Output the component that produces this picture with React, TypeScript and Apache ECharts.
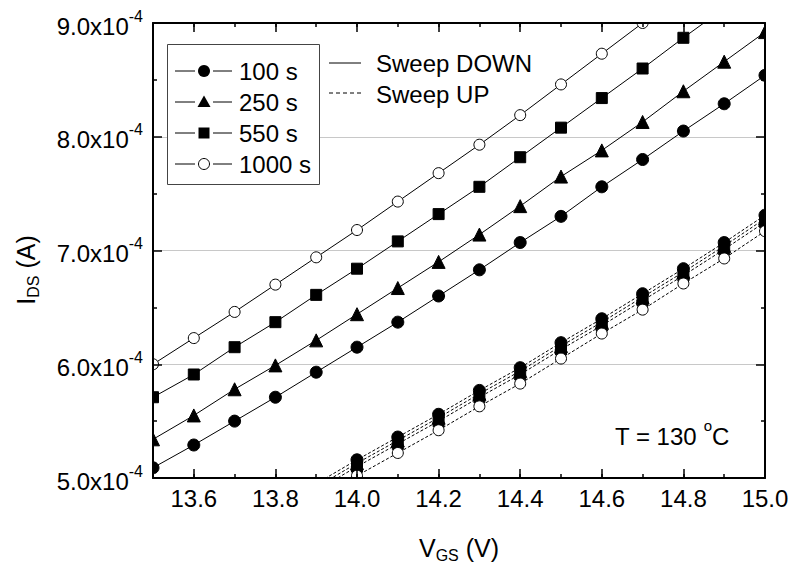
import React, { useEffect, useRef } from 'react';
import * as echarts from 'echarts';

// Gate voltage values (V)
const VGS_DOWN = [13.5, 13.6, 13.7, 13.8, 13.9, 14.0, 14.1, 14.2, 14.3, 14.4, 14.5, 14.6, 14.7, 14.8, 14.9, 15.0];
const VGS_UP = [13.9, 14.0, 14.1, 14.2, 14.3, 14.4, 14.5, 14.6, 14.7, 14.8, 14.9, 15.0];

// Drain current, in units of 1e-4 A — Sweep DOWN (solid)
const DOWN_100 = [5.09, 5.29, 5.50, 5.71, 5.93, 6.15, 6.37, 6.60, 6.83, 7.07, 7.30, 7.56, 7.80, 8.05, 8.29, 8.54];
const DOWN_250 = [5.34, 5.55, 5.78, 5.99, 6.21, 6.44, 6.67, 6.90, 7.14, 7.39, 7.65, 7.88, 8.13, 8.40, 8.66, 8.92];
const DOWN_550 = [5.71, 5.91, 6.15, 6.37, 6.61, 6.84, 7.08, 7.32, 7.56, 7.82, 8.08, 8.34, 8.60, 8.87, 9.13, null];
const DOWN_1000 = [6.00, 6.23, 6.46, 6.70, 6.94, 7.18, 7.43, 7.68, 7.93, 8.19, 8.46, 8.73, 9.00, null, null, null];

// Sweep UP (dashed)
const UP_100 = [4.95, 5.16, 5.36, 5.56, 5.77, 5.97, 6.19, 6.40, 6.62, 6.84, 7.07, 7.31];
const UP_250 = [4.92, 5.13, 5.33, 5.53, 5.74, 5.94, 6.16, 6.37, 6.59, 6.81, 7.04, 7.28];
const UP_550 = [4.89, 5.10, 5.30, 5.50, 5.71, 5.91, 6.13, 6.34, 6.56, 6.78, 7.01, 7.25];
const UP_1000 = [4.82, 5.02, 5.22, 5.42, 5.63, 5.83, 6.05, 6.27, 6.48, 6.71, 6.93, 7.17];

const NAMES = ['100 s', '250 s', '550 s', '1000 s'];
const X_MAJOR = [13.6, 13.8, 14.0, 14.2, 14.4, 14.6, 14.8, 15.0];
const X_MIN = 13.5;
const X_MAX = 15.0;
const Y_MIN = 5;
const Y_MAX = 9;

const FONT = '"Liberation Sans", Arial, Helvetica, sans-serif';

const MARKERS = [
  { symbol: 'circle', size: 12, fill: '#000' },
  { symbol: 'triangle', size: 13, fill: '#000' },
  { symbol: 'rect', size: 11, fill: '#000' },
  { symbol: 'circle', size: 11, fill: '#fff' },
];

// plot area in pixels
const G_LEFT = 153;
const G_TOP = 23;
const G_RIGHT = 765;
const G_BOTTOM = 478;
const W = 792;
const H = 567;

function pairs(xs: number[], ys: (number | null)[]) {
  return xs.map((x, i) => [x, ys[i]]);
}

export default function App() {
  const ref = useRef<HTMLDivElement>(null);

  useEffect(() => {
    if (!ref.current) return;
    const chart = echarts.init(ref.current, null, { renderer: 'svg' });

    const downSets = [DOWN_100, DOWN_250, DOWN_550, DOWN_1000];
    const upSets = [UP_100, UP_250, UP_550, UP_1000];

    const series: any[] = [];
    downSets.forEach((ys, i) => {
      const m = MARKERS[i];
      series.push({
        name: NAMES[i],
        type: 'line',
        z: 2,
        data: pairs(VGS_DOWN, ys),
        symbol: m.symbol,
        symbolSize: m.size,
        showAllSymbol: true,
        connectNulls: false,
        clip: true,
        lineStyle: { color: '#000', width: 1, type: 'solid' },
        itemStyle: { color: m.fill, borderColor: '#000', borderWidth: 1 },
        emphasis: { disabled: true },
      });
    });
    upSets.forEach((ys, i) => {
      const m = MARKERS[i];
      series.push({
        name: NAMES[i] + ' up',
        type: 'line',
        z: 2,
        data: pairs(VGS_UP, ys),
        symbol: m.symbol,
        symbolSize: m.size,
        showAllSymbol: true,
        clip: true,
        lineStyle: { color: '#000', width: 1, type: [3, 2] },
        itemStyle: { color: m.fill, borderColor: '#000', borderWidth: 1 },
        emphasis: { disabled: true },
      });
    });

    // white frame outside the plot area, so markers are cut at the axes like in the original
    series.push({
      type: 'custom',
      name: 'frame-mask',
      coordinateSystem: 'none',
      z: 3,
      silent: true,
      data: [[0]],
      renderItem: () => {
        const st = { fill: '#fff' };
        return {
          type: 'group',
          children: [
            { type: 'rect', shape: { x: 0, y: 0, width: G_LEFT, height: H }, style: st },
            { type: 'rect', shape: { x: G_RIGHT, y: 0, width: W - G_RIGHT, height: H }, style: st },
            { type: 'rect', shape: { x: 0, y: 0, width: W, height: G_TOP }, style: st },
            { type: 'rect', shape: { x: 0, y: G_BOTTOM, width: W, height: H - G_BOTTOM }, style: st },
          ],
        };
      },
    });

    const axisLine = { show: true, onZero: false, lineStyle: { color: '#000', width: 2 } };
    const tickStyle = { color: '#000', width: 1.5 };
    const AXZ = 5;

    const rows = [71, 102, 133, 164];
    const legendEls: any[] = [
      {
        type: 'rect',
        shape: { x: 167.5, y: 44.5, width: 152, height: 140 },
        style: { fill: '#fff', stroke: '#444', lineWidth: 1 },
        z: 10,
      },
    ];
    rows.forEach((y, i) => {
      legendEls.push({ type: 'line', shape: { x1: 175, y1: y, x2: 195, y2: y }, style: { stroke: '#000', lineWidth: 1 }, z: 11 });
      legendEls.push({ type: 'line', shape: { x1: 213, y1: y, x2: 232, y2: y }, style: { stroke: '#000', lineWidth: 1 }, z: 11 });
      const cx = 204;
      if (i === 0) legendEls.push({ type: 'circle', shape: { cx, cy: y, r: 6 }, style: { fill: '#000' }, z: 11 });
      if (i === 1) legendEls.push({ type: 'polygon', shape: { points: [[cx, y - 6.5], [cx + 6.5, y + 5], [cx - 6.5, y + 5]] }, style: { fill: '#000' }, z: 11 });
      if (i === 2) legendEls.push({ type: 'rect', shape: { x: cx - 5.5, y: y - 5.5, width: 11, height: 11 }, style: { fill: '#000' }, z: 11 });
      if (i === 3) legendEls.push({ type: 'circle', shape: { cx, cy: y, r: 5.5 }, style: { fill: '#fff', stroke: '#000', lineWidth: 1 }, z: 11 });
      legendEls.push({
        type: 'text', x: 239, y,
        style: { text: NAMES[i], fontSize: 24, fontFamily: FONT, fill: '#000', align: 'left', verticalAlign: 'middle', textAlign: 'left', textVerticalAlign: 'middle' },
        z: 11,
      });
    });
    legendEls.push({ type: 'line', shape: { x1: 329, y1: 63, x2: 361, y2: 63 }, style: { stroke: '#000', lineWidth: 1 }, z: 11 });
    legendEls.push({ type: 'line', shape: { x1: 329, y1: 93, x2: 361, y2: 93 }, style: { stroke: '#000', lineWidth: 1, lineDash: [4, 3] }, z: 11 });
    legendEls.push({
      type: 'text', x: 376, y: 63,
      style: { text: 'Sweep DOWN', fontSize: 24, fontFamily: FONT, fill: '#000', align: 'left', verticalAlign: 'middle', textAlign: 'left', textVerticalAlign: 'middle' },
      z: 11,
    });
    legendEls.push({
      type: 'text', x: 376, y: 94,
      style: { text: 'Sweep UP', fontSize: 24, fontFamily: FONT, fill: '#000', align: 'left', verticalAlign: 'middle', textAlign: 'left', textVerticalAlign: 'middle' },
      z: 11,
    });

    const titleRich = {
      a: { fontSize: 25, lineHeight: 28, verticalAlign: 'top', fontFamily: FONT, fill: '#000', color: '#000' },
      s: { fontSize: 16, lineHeight: 16, padding: [19, 0, 0, 0], verticalAlign: 'bottom', fontFamily: FONT, fill: '#000', color: '#000' },
    };

    const graphics: any[] = [
      ...legendEls,
      {
        type: 'text', x: 615, y: 433,
        style: {
          text: '{a|T = 130 }{s|o}{a|C}',
          align: 'left', verticalAlign: 'middle', textAlign: 'left', textVerticalAlign: 'middle',
          fontFamily: FONT, fill: '#000',
          rich: {
            a: { fontSize: 24, lineHeight: 30, verticalAlign: 'bottom', fontFamily: FONT, fill: '#000' },
            s: { fontSize: 15, lineHeight: 15, verticalAlign: 'top', fontFamily: FONT, fill: '#000' },
          },
        },
        z: 11,
      },
      {
        type: 'text', x: 419, y: 549,
        style: {
          text: '{a|V}{s|GS}{a| (V)}',
          align: 'left', verticalAlign: 'middle', textAlign: 'left', textVerticalAlign: 'middle',
          fontFamily: FONT, fill: '#000', rich: titleRich,
        },
        z: 11,
      },
      {
        type: 'text', x: 27, y: 270, rotation: Math.PI / 2,
        style: {
          text: '{a|I}{s|DS}{a| (A)}',
          align: 'center', verticalAlign: 'middle', textAlign: 'center', textVerticalAlign: 'middle',
          fontFamily: FONT, fill: '#000', rich: titleRich,
        },
        z: 11,
      },
    ];

    chart.setOption({
      animation: false,
      backgroundColor: '#fff',
      grid: { left: G_LEFT, top: G_TOP, right: W - G_RIGHT, bottom: H - G_BOTTOM, containLabel: false },
      xAxis: [
        {
          type: 'value', min: X_MIN, max: X_MAX, interval: 0.1, position: 'bottom', z: AXZ,
          axisLine,
          axisTick: { show: true, inside: true, length: 4, lineStyle: tickStyle },
          axisLabel: {
            show: true, customValues: X_MAJOR, margin: 8,
            formatter: (v: number) => v.toFixed(1),
            fontSize: 24, color: '#000', fontFamily: FONT,
          },
          splitLine: { show: false },
        },
        {
          type: 'value', min: X_MIN, max: X_MAX, position: 'bottom', z: AXZ,
          axisLine: { show: false },
          axisTick: { show: true, inside: true, length: 9, customValues: X_MAJOR, lineStyle: tickStyle },
          axisLabel: { show: false },
          splitLine: { show: false },
        },
        {
          type: 'value', min: X_MIN, max: X_MAX, interval: 0.1, position: 'top', z: AXZ,
          axisLine,
          axisTick: { show: true, inside: true, length: 4, lineStyle: tickStyle },
          axisLabel: { show: false },
          splitLine: { show: false },
        },
        {
          type: 'value', min: X_MIN, max: X_MAX, position: 'top', z: AXZ,
          axisLine: { show: false },
          axisTick: { show: true, inside: true, length: 9, customValues: X_MAJOR, lineStyle: tickStyle },
          axisLabel: { show: false },
          splitLine: { show: false },
        },
      ],
      yAxis: [
        {
          // gridlines only (drawn beneath the series)
          type: 'value', min: Y_MIN, max: Y_MAX, interval: 1, position: 'left',
          axisLine: { show: false },
          axisTick: { show: false },
          axisLabel: { show: false },
          splitLine: { show: true, showMinLine: false, showMaxLine: false, lineStyle: { color: '#c8c8c8', width: 1 } },
        },
        {
          type: 'value', min: Y_MIN, max: Y_MAX, interval: 1, position: 'left', z: AXZ,
          axisLine,
          axisTick: { show: true, inside: true, length: 9, lineStyle: tickStyle },
          minorTick: { show: true, splitNumber: 2, length: 4, lineStyle: tickStyle },
          axisLabel: {
            show: true, margin: 10, color: '#000', fontFamily: FONT,
            formatter: (v: number) => `{m|${v.toFixed(1)}x10}{e|-4}`,
            rich: {
              m: { fontSize: 24, lineHeight: 30, verticalAlign: 'bottom', fontFamily: FONT, color: '#000' },
              e: { fontSize: 16, lineHeight: 16, verticalAlign: 'top', fontFamily: FONT, color: '#000' },
            },
          },
          splitLine: { show: false },
        },
        {
          type: 'value', min: Y_MIN, max: Y_MAX, interval: 1, position: 'right', z: AXZ,
          axisLine,
          axisTick: { show: true, inside: true, length: 9, lineStyle: tickStyle },
          minorTick: { show: true, splitNumber: 2, length: 4, lineStyle: tickStyle },
          axisLabel: { show: false },
          splitLine: { show: false },
        },
      ],
      series,
      graphic: { elements: graphics },
    });

    return () => {
      chart.dispose();
    };
  }, []);

  return (
    <div
      ref={ref}
      style={{ position: 'fixed', left: 0, top: 0, width: W, height: H, background: '#fff' }}
    />
  );
}
